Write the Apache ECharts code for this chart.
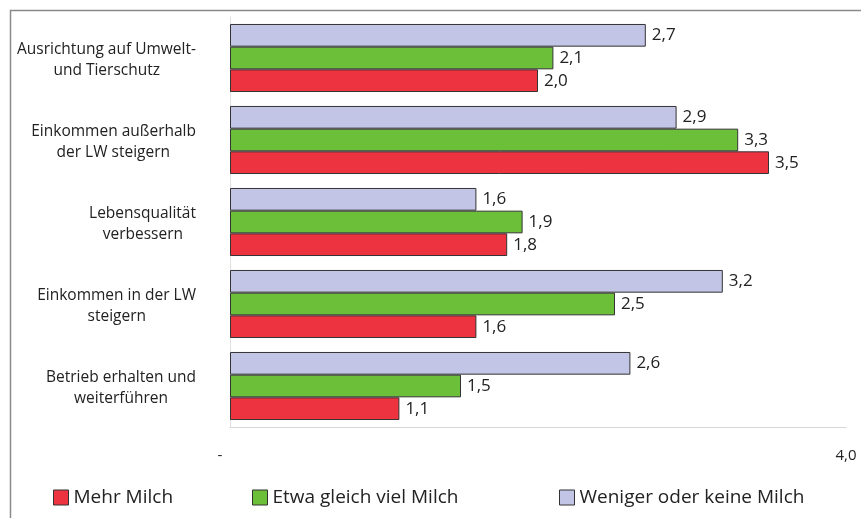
<!DOCTYPE html>
<html>
<head>
<meta charset="utf-8">
<script src="https://cdn.jsdelivr.net/npm/echarts@6/dist/echarts.min.js"></script>
<style>
  html, body { margin: 0; padding: 0; background: #ffffff; }
  #chart { width: 861px; height: 518px; }
</style>
</head>
<body>
<div id="chart"></div>
<script>
// Goals, top to bottom
const categories = [
  'Ausrichtung auf Umwelt-\nund Tierschutz',
  'Einkommen außerhalb\nder LW steigern',
  'Lebensqualität\nverbessern',
  'Einkommen in der LW\nsteigern',
  'Betrieb erhalten und\nweiterführen'
];
const seriesNames = ['Mehr Milch', 'Etwa gleich viel Milch', 'Weniger oder keine Milch'];
const mehrMilch = [2.0, 3.5, 1.8, 1.6, 1.1];
const gleichMilch = [2.1, 3.3, 1.9, 2.5, 1.5];
const wenigerMilch = [2.7, 2.9, 1.6, 3.2, 2.6];
const axisMin = 0;
const axisMax = 4;

const colors = ['#ee3340', '#6cbf38', '#c3c5e6'];
const FONT = '"Open Sans", "Noto Sans", sans-serif';
const CAT_FONT_SIZE = 15.5;
const GRID_LEFT = 230;
const LABEL_RIGHT = 196; // right edge of the category label blocks

const fmt = v => v.toFixed(1).replace('.', ',');

// Category labels: two stacked lines per goal, centred inside a right-aligned block.
// Each line lives on its own category axis; a right padding centres it in the block,
// and an empty companion line moves it above or below the band centre.
const measureCtx = document.createElement('canvas').getContext('2d');
measureCtx.font = CAT_FONT_SIZE + 'px ' + FONT;
const splitLines = categories.map(c => c.split('\n'));
const lineWidths = splitLines.map(ls => ls.map(l => measureCtx.measureText(l).width));
const blockWidths = lineWidths.map(ws => Math.max.apply(null, ws));

function lineItems(lineIdx) {
  return categories.map((c, i) => ({
    value: c,
    textStyle: {
      padding: [0, Math.round((blockWidths[i] - lineWidths[i][lineIdx]) / 2), 0, 0]
    }
  }));
}

function categoryAxis(lineIdx, lineHeight, showLine) {
  return {
    type: 'category',
    position: 'left',
    data: lineItems(lineIdx),
    inverse: true,
    axisTick: { show: false },
    axisLine: { show: showLine, lineStyle: { color: '#e0e0e0', width: 1 } },
    axisLabel: {
      margin: GRID_LEFT - LABEL_RIGHT,
      lineHeight: lineHeight,
      fontFamily: FONT,
      fontSize: CAT_FONT_SIZE,
      color: '#222222',
      formatter: v => lineIdx === 0 ? v.split('\n')[0] + '\n ' : ' \n' + v.split('\n')[1]
    }
  };
}

function barSeries(name, data, color) {
  return {
    name: name,
    type: 'bar',
    yAxisIndex: 0,
    data: data,
    barGap: '0%',
    barCategoryGap: '17%',
    itemStyle: { color: color, borderColor: '#333333', borderWidth: 1 },
    label: {
      show: true,
      position: 'right',
      distance: 6,
      color: '#222222',
      fontFamily: FONT,
      fontSize: 17,
      formatter: p => fmt(p.value)
    }
  };
}

function legendAt(name, left) {
  return {
    data: [name],
    left: left,
    top: 488,
    padding: 0,
    itemWidth: 15,
    itemHeight: 15,
    itemGap: 0,
    icon: 'rect',
    textStyle: { fontFamily: FONT, fontSize: 19, color: '#222222' },
    itemStyle: { borderColor: '#333333', borderWidth: 1 }
  };
}

const chart = echarts.init(document.getElementById('chart'), null, { renderer: 'canvas' });
chart.setOption({
  animation: false,
  backgroundColor: '#ffffff',
  graphic: [{
    type: 'rect',
    shape: { x: 10.5, y: 10.5, width: 900, height: 600 },
    style: { fill: 'none', stroke: '#8a8a8a', lineWidth: 1.5 },
    silent: true
  }],
  legend: [
    legendAt(seriesNames[0], 53),
    legendAt(seriesNames[1], 252),
    legendAt(seriesNames[2], 559)
  ],
  grid: {
    left: GRID_LEFT, right: 15, top: 17, bottom: 91,
    containLabel: false, outerBoundsMode: 'none'
  },
  xAxis: {
    type: 'value',
    min: axisMin,
    max: axisMax,
    interval: 4,
    splitLine: { show: false },
    axisTick: { show: false },
    axisLine: { show: true, lineStyle: { color: '#d6d6d6', width: 1 } },
    axisLabel: {
      margin: 21,
      fontFamily: FONT,
      fontSize: 15,
      color: '#222222',
      formatter: v => v === 0 ? '{d|-}' : fmt(v),
      rich: { d: { padding: [0, 20, 0, 0], fontSize: 15, fontFamily: FONT, color: '#222222' } }
    }
  },
  yAxis: [
    categoryAxis(0, 16, true),
    categoryAxis(1, 26, false)
  ],
  series: [
    barSeries(seriesNames[2], wenigerMilch, colors[2]),
    barSeries(seriesNames[1], gleichMilch, colors[1]),
    barSeries(seriesNames[0], mehrMilch, colors[0])
  ]
});
</script>
</body>
</html>
